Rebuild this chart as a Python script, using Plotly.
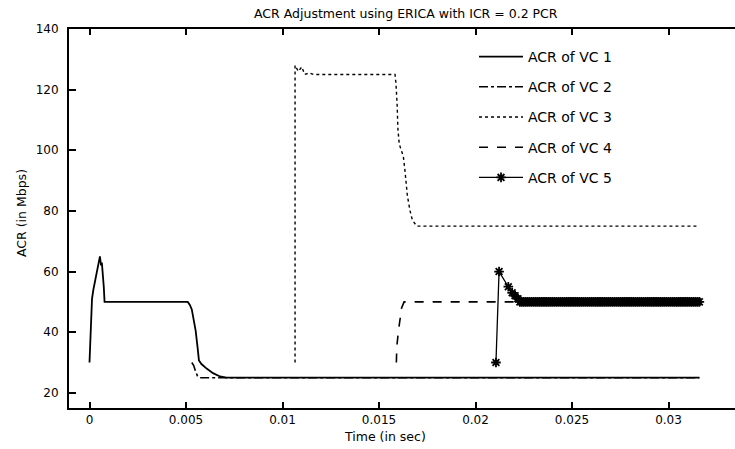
import plotly.graph_objects as go

# ---- data ----
vc1_t = [0.0, 0.00003, 0.00008, 0.00013, 0.0002, 0.00029, 0.0004, 0.00054, 0.0006, 0.00064, 0.00074, 0.00078,
         0.00509, 0.0052, 0.0053, 0.0054, 0.0055, 0.0056, 0.00567, 0.0058, 0.00607, 0.0064, 0.00676, 0.0071, 0.0316]
vc1_v = [30, 36, 47, 51, 54, 57, 61, 65, 62, 63, 55, 50,
         50, 49, 47.5, 44, 40.5, 35, 30.7, 29.5, 28, 26.5, 25.4, 25, 25]

vc2_t = [0.0053, 0.0054, 0.0055, 0.0056, 0.0057, 0.0316]
vc2_v = [30, 29, 27, 25.5, 25, 25]

vc3_t = [0.01065, 0.01065, 0.01082, 0.0110, 0.01115, 0.01139, 0.0116, 0.01583, 0.01588, 0.01592, 0.01594,
         0.01596, 0.01598, 0.01605, 0.01626, 0.01635, 0.0164, 0.01647, 0.01661, 0.01673, 0.01695, 0.0316]
vc3_v = [30, 128, 126, 127.5, 125, 125.5, 125, 125, 122, 119, 115,
         111, 107, 102, 98, 93, 89, 85, 80, 77, 75, 75]

vc4_t = [0.0159, 0.01592, 0.0160, 0.01609, 0.01617, 0.0163, 0.0316]
vc4_v = [30, 35, 40, 45, 48, 50, 50]

vc5_t = [0.02106, 0.02122, 0.0217, 0.0219, 0.02205, 0.0222,
         0.0223, 0.0224, 0.0225, 0.0226, 0.0227, 0.0228, 0.0229, 0.0230, 0.0231, 0.0232,
         0.0233, 0.0234, 0.0235, 0.0236, 0.0237, 0.0238, 0.0239, 0.0240, 0.0241, 0.0242,
         0.0243, 0.0244, 0.0245, 0.0246, 0.0247, 0.0248, 0.0249, 0.0250, 0.0251, 0.0252,
         0.0253, 0.0254, 0.0255, 0.0256, 0.0257, 0.0258, 0.0259, 0.0260, 0.0261, 0.0262,
         0.0263, 0.0264, 0.0265, 0.0266, 0.0267, 0.0268, 0.0269, 0.0270, 0.0271, 0.0272,
         0.0273, 0.0274, 0.0275, 0.0276, 0.0277, 0.0278, 0.0279, 0.0280, 0.0281, 0.0282,
         0.0283, 0.0284, 0.0285, 0.0286, 0.0287, 0.0288, 0.0289, 0.0290, 0.0291, 0.0292,
         0.0293, 0.0294, 0.0295, 0.0296, 0.0297, 0.0298, 0.0299, 0.0300, 0.0301, 0.0302,
         0.0303, 0.0304, 0.0305, 0.0306, 0.0307, 0.0308, 0.0309, 0.0310, 0.0311, 0.0312,
         0.0313, 0.0314, 0.0315, 0.0316]
vc5_v = [30, 60, 55, 53, 52, 51,
         50, 50, 50, 50, 50, 50, 50, 50, 50, 50,
         50, 50, 50, 50, 50, 50, 50, 50, 50, 50,
         50, 50, 50, 50, 50, 50, 50, 50, 50, 50,
         50, 50, 50, 50, 50, 50, 50, 50, 50, 50,
         50, 50, 50, 50, 50, 50, 50, 50, 50, 50,
         50, 50, 50, 50, 50, 50, 50, 50, 50, 50,
         50, 50, 50, 50, 50, 50, 50, 50, 50, 50,
         50, 50, 50, 50, 50, 50, 50, 50, 50, 50,
         50, 50, 50, 50, 50, 50, 50, 50, 50, 50,
         50, 50, 50, 50]

x_ticks = [0, 0.005, 0.01, 0.015, 0.02, 0.025, 0.03]
x_tick_labels = ["0", "0.005", "0.01", "0.015", "0.02", "0.025", "0.03"]
y_ticks = [20, 40, 60, 80, 100, 120, 140]
y_tick_labels = ["20", "40", "60", "80", "100", "120", "140"]

names = ["ACR of VC 1", "ACR of VC 2", "ACR of VC 3", "ACR of VC 4", "ACR of VC 5"]

FONT = "DejaVu Sans, Liberation Sans, Arial, sans-serif"

fig = go.Figure()
fig.add_trace(go.Scatter(x=vc1_t, y=vc1_v, mode="lines", name=names[0], legendgroup="a",
                         line=dict(color="black", width=1.8)))
fig.add_trace(go.Scatter(x=vc2_t, y=vc2_v, mode="lines", name=names[1], legendgroup="b",
                         line=dict(color="black", width=1.6, dash="dashdot")))
fig.add_trace(go.Scatter(x=vc3_t, y=vc3_v, mode="lines", name=names[2], legendgroup="c",
                         line=dict(color="black", width=1.4, dash="dot")))
fig.add_trace(go.Scatter(x=vc4_t, y=vc4_v, mode="lines", name=names[3], legendgroup="d",
                         line=dict(color="black", width=1.6, dash="dash")))
fig.add_trace(go.Scatter(x=vc5_t, y=vc5_v, mode="lines+markers", name=names[4], legendgroup="e",
                         line=dict(color="black", width=1.3),
                         marker=dict(symbol="asterisk-open", size=8, color="black",
                                     line=dict(color="black", width=1.8))))

W, H = 735, 449
L, R, T, B = 69, 0, 29, 41
PX_PER_SEC = 19300.0
X0_PX = 89.5

fig.update_layout(
    width=W, height=H,
    margin=dict(l=L, r=R, t=T, b=B),
    paper_bgcolor="white", plot_bgcolor="white",
    font=dict(family=FONT, size=12, color="black"),
    showlegend=True,
    legend=dict(x=(474 - L) / (W - L), y=1 - (41 - T) / (H - T - B), xanchor="left", yanchor="top",
                bgcolor="rgba(0,0,0,0)", borderwidth=0, font=dict(size=14, family=FONT),
                traceorder="grouped", tracegroupgap=9, itemwidth=44),
    annotations=[
        dict(text="ACR Adjustment using ERICA with ICR = 0.2 PCR", xref="paper", yref="paper",
             x=(406 - L) / (W - L), y=1 + (T - 13) / (H - T - B), xanchor="center", yanchor="middle",
             showarrow=False, font=dict(size=12.5, family=FONT)),
        dict(text="Time (in sec)", xref="paper", yref="paper",
             x=(385 - L) / (W - L), y=-(436 - (H - B)) / (H - T - B), xanchor="center", yanchor="middle",
             showarrow=False, font=dict(size=12.5, family=FONT)),
        dict(text="ACR (in Mbps)", xref="paper", yref="paper", textangle=-90,
             x=-(L - 22) / (W - L), y=1 - (213 - T) / (H - T - B), xanchor="center", yanchor="middle",
             showarrow=False, font=dict(size=12.5, family=FONT)),
    ],
)

fig.update_xaxes(range=[(L - X0_PX) / PX_PER_SEC, (W - R - X0_PX) / PX_PER_SEC],
                 tickvals=x_ticks, ticktext=x_tick_labels,
                 ticks="inside", ticklen=6, tickwidth=1.5, tickcolor="black",
                 showline=True, linecolor="black", linewidth=2, mirror="ticks",
                 showgrid=False, zeroline=False, tickfont=dict(size=12, family=FONT))
fig.update_yaxes(range=[15, 140], tickvals=y_ticks, ticktext=y_tick_labels,
                 ticks="inside", ticklen=7, tickwidth=1.5, tickcolor="black",
                 showline=True, linecolor="black", linewidth=2, mirror=False,
                 showgrid=False, zeroline=False, tickfont=dict(size=12, family=FONT),
                 ticklabelstandoff=6)

fig.write_html("out.html")
